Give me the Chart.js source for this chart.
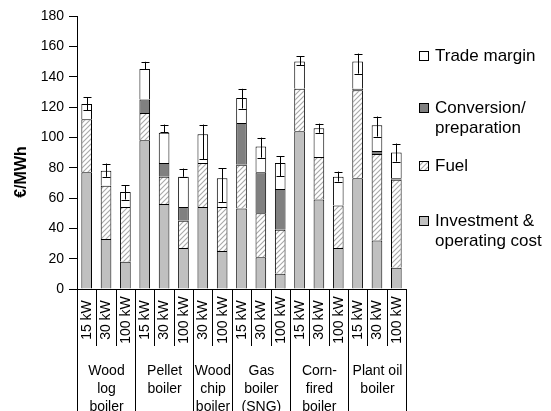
<!DOCTYPE html>
<html>
<head>
<meta charset="utf-8">
<script src="https://cdn.jsdelivr.net/npm/chart.js@4.4.1/dist/chart.umd.min.js"></script>
<style>
  html, body { margin: 0; padding: 0; background: #fff; }
  canvas { display: block; }
</style>
</head>
<body>
<canvas id="chart" width="551" height="411"></canvas>
<script>
// Heating cost per system size, €/MWh
const sizeLabels = ['15 kW', '30 kW', '100 kW', '15 kW', '30 kW', '100 kW', '30 kW', '100 kW',
  '15 kW', '30 kW', '100 kW', '15 kW', '30 kW', '100 kW', '15 kW', '30 kW', '100 kW'];
const groupNames = [['Wood', 'log', 'boiler'], ['Pellet', 'boiler'], ['Wood', 'chip', 'boiler'],
  ['Gas', 'boiler', '(SNG)'], ['Corn-', 'fired', 'boiler'], ['Plant oil', 'boiler']];
const groupSizes = [3, 3, 2, 3, 3, 3];

const investment  = [77, 33, 18, 98, 56, 27, 54, 25, 53, 21, 10, 104, 59, 27, 73, 32, 14];
const fuel        = [35, 35, 36, 18, 18, 18, 29, 29, 29, 29, 29, 28, 28, 28, 58, 57, 58];
const conversion  = [null, null, null, 9, 9, 9, null, null, 27.5, 27, 27, null, null, null, 1, 2, 1];
const tradeMargin = [10, 10, 10, 20, 20, 20, 19, 19, 16.5, 17, 17, 18, 19, 19, 18, 17, 17];

// Cost ranges shown as error bars
const rangeLow  = [118, 74, 59, 145, 103.5, 74, 85.7, 57.4, 119, 86.6, 74.5, 147.7, 103, 70.8, 142, 100.5, 84];
const rangeHigh = [126.6, 82.7, 68.4, 149.8, 108.4, 79.4, 108.4, 79.6, 132, 99.8, 87.7, 153.6, 109, 77.4, 155.2, 113.7, 95.9];

const seriesNames = ['Investment & operating cost', 'Fuel', 'Conversion/preparation', 'Trade margin'];
const legendLines = [['Investment &', 'operating cost'], ['Fuel'], ['Conversion/', 'preparation'], ['Trade margin']];
const yMin = 0, yMax = 180, yStep = 20;
const yTitle = '€/MWh';

Chart.defaults.font.family = "'Liberation Sans', Arial, sans-serif";
Chart.defaults.color = '#000';

// diagonal hatch used for the fuel share
function makeHatch() {
  const c = document.createElement('canvas');
  c.width = 5; c.height = 5;
  const g = c.getContext('2d');
  g.fillStyle = '#fff';
  g.fillRect(0, 0, 5, 5);
  g.strokeStyle = '#a8a8a8';
  g.lineWidth = 1.1;
  g.beginPath();
  g.moveTo(-1, 6); g.lineTo(6, -1);
  g.moveTo(-1, 1); g.lineTo(1, -1);
  g.moveTo(4, 6); g.lineTo(6, 4);
  g.stroke();
  return document.getElementById('chart').getContext('2d').createPattern(c, 'repeat');
}
const hatch = makeHatch();
const fills = ['#c0c0c0', hatch, '#808080', '#ffffff'];

const decor = {
  id: 'decor',
  afterDatasetsDraw(chart) {
    const ctx = chart.ctx, x = chart.scales.x, y = chart.scales.y;
    ctx.save();
    ctx.strokeStyle = '#000';
    ctx.lineWidth = 1;
    // error bars
    for (let i = 0; i < sizeLabels.length; i++) {
      const px = Math.round(x.getPixelForValue(i)) + 0.5;
      const lo = y.getPixelForValue(rangeLow[i]);
      const hi = y.getPixelForValue(rangeHigh[i]);
      ctx.beginPath();
      ctx.moveTo(px, lo); ctx.lineTo(px, hi);
      ctx.moveTo(px - 4, Math.round(lo) + 0.5); ctx.lineTo(px + 4, Math.round(lo) + 0.5);
      ctx.moveTo(px - 4, Math.round(hi) + 0.5); ctx.lineTo(px + 4, Math.round(hi) + 0.5);
      ctx.stroke();
    }
    ctx.restore();
  },
  afterDraw(chart) {
    const ctx = chart.ctx, x = chart.scales.x;
    const area = chart.chartArea;
    ctx.save();
    ctx.strokeStyle = '#000';
    ctx.lineWidth = 1;
    ctx.fillStyle = '#000';

    // category separators: short within a group, full height between groups
    const bounds = [0];
    groupSizes.reduce((acc, n) => { bounds.push(acc + n); return acc + n; }, 0);
    for (let i = 0; i <= sizeLabels.length; i++) {
      const px = Math.round(x.getPixelForValue(i - 0.5)) + 0.5;
      ctx.beginPath();
      ctx.moveTo(px, area.bottom);
      ctx.lineTo(px, bounds.includes(i) ? chart.height : area.bottom + 57);
      ctx.stroke();
    }

    // rotated size labels
    ctx.font = "14px 'Liberation Sans', Arial, sans-serif";
    ctx.textAlign = 'center';
    ctx.textBaseline = 'middle';
    sizeLabels.forEach((lab, i) => {
      ctx.save();
      ctx.translate(x.getPixelForValue(i) + 0.5, area.bottom + 31);
      ctx.rotate(-Math.PI / 2);
      ctx.fillText(lab, 0, 0);
      ctx.restore();
    });

    // group names
    ctx.textBaseline = 'alphabetic';
    groupNames.forEach((lines, g) => {
      const a = x.getPixelForValue(bounds[g] - 0.5);
      const b = x.getPixelForValue(bounds[g + 1] - 0.5);
      lines.forEach((t, k) => ctx.fillText(t, (a + b) / 2 + 0.5, area.bottom + 86 + k * 18));
    });

    // y axis title
    ctx.save();
    ctx.font = "bold 16px 'Liberation Sans', Arial, sans-serif";
    ctx.translate(22, 172);
    ctx.rotate(-Math.PI / 2);
    ctx.textBaseline = 'middle';
    ctx.fillText(yTitle, 0, 0);
    ctx.restore();

    // legend, top entry is the top of the stack
    const rowY = [221, 166, 108, 56];
    ctx.font = "17px 'Liberation Sans', Arial, sans-serif";
    ctx.textAlign = 'left';
    ctx.textBaseline = 'middle';
    for (let s = 0; s < seriesNames.length; s++) {
      const cy = rowY[s];
      ctx.fillStyle = fills[s];
      ctx.fillRect(419.5, cy - 4.5, 9, 9);
      ctx.strokeStyle = '#000';
      ctx.strokeRect(419.5, cy - 4.5, 9, 9);
      ctx.fillStyle = '#000';
      legendLines[s].forEach((t, k) => ctx.fillText(t, 435, cy + k * 20));
    }
    ctx.restore();
  }
};

const series = [investment, fuel, conversion, tradeMargin];

new Chart(document.getElementById('chart'), {
  type: 'bar',
  data: {
    labels: sizeLabels,
    datasets: series.map((d, s) => ({
      label: seriesNames[s],
      data: d,
      backgroundColor: fills[s],
      borderColor: '#000',
      borderWidth: 1,
      barPercentage: 0.55,
      categoryPercentage: 1
    }))
  },
  options: {
    responsive: false,
    animation: false,
    layout: { padding: { left: 0, top: 16, right: 145, bottom: 0 } },
    plugins: { legend: { display: false }, tooltip: { enabled: false } },
    scales: {
      x: {
        stacked: true,
        ticks: { display: false },
        grid: { display: false },
        border: { color: '#000', width: 1 },
        afterFit(s) { s.height = 122; }
      },
      y: {
        stacked: true,
        min: yMin,
        max: yMax,
        ticks: { stepSize: yStep, font: { size: 14 }, color: '#000', padding: 5 },
        grid: { drawOnChartArea: false, tickLength: 8, color: '#000', tickColor: '#000' },
        border: { color: '#000', width: 1 },
        afterFit(s) { s.width = 77; }
      }
    }
  },
  plugins: [decor]
});
</script>
</body>
</html>
